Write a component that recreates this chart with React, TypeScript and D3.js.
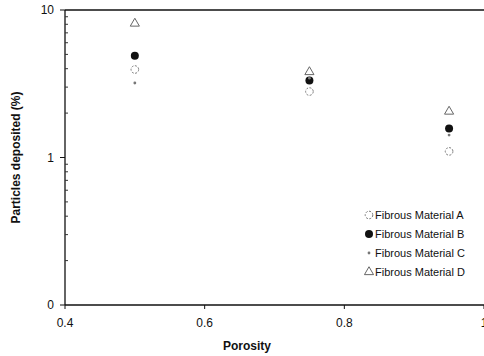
import { scaleLinear, scaleLog, symbol, symbolTriangle } from "d3";

const porosity = [0.5, 0.75, 0.95];
const materialA = [3.95, 2.8, 1.1];
const materialB = [4.9, 3.33, 1.57];
const materialC = [3.2, 3.45, 1.42];
const materialD = [8.1, 3.8, 2.05];
const seriesNames = ["Fibrous Material A", "Fibrous Material B", "Fibrous Material C", "Fibrous Material D"];
const xTicks = [0.4, 0.6, 0.8, 1];
const yTicks = [0.1, 1, 10];
const yTickLabels = ["0", "1", "10"];

const W = 484;
const H = 356;
const left = 65;
const top = 10;
const right = 484;
const bottom = 305;
const font = "Liberation Sans, Arial, sans-serif";

function Marker({ kind, x, y }: { kind: number; x: number; y: number }) {
  if (kind === 0)
    return <circle cx={x} cy={y} r={3.8} fill="white" stroke="#777" strokeWidth={1} strokeDasharray="2,1.5" />;
  if (kind === 1) return <circle cx={x} cy={y} r={4} fill="#111" />;
  if (kind === 2) return <circle cx={x} cy={y} r={1.4} fill="#777" />;
  const tri = symbol().type(symbolTriangle).size(36)();
  return <path d={tri || ""} transform={`translate(${x},${y})`} fill="white" stroke="#666" strokeWidth={1} />;
}

export default function App() {
  const x = scaleLinear().domain([0.4, 1]).range([left, right]);
  const y = scaleLog().domain([0.1, 10]).range([bottom, top]);
  const series = [materialA, materialB, materialC, materialD];
  const minors: number[] = [];
  [0.1, 1].forEach((d) => {
    for (let k = 2; k <= 9; k++) minors.push(d * k);
  });

  return (
    <svg width={W} height={H} style={{ position: "absolute", left: 0, top: 0, background: "white" }}>
      <rect width={W} height={H} fill="white" />
      {/* frame */}
      <line x1={left} x2={right} y1={top} y2={top} stroke="#111" strokeWidth={1.3} />
      <line x1={left} x2={left} y1={top} y2={bottom} stroke="#111" strokeWidth={1.3} />
      <line x1={left} x2={right} y1={bottom} y2={bottom} stroke="#111" strokeWidth={1.3} />

      {yTicks.map((t, i) => (
        <g key={t}>
          <line x1={left - 5} x2={left} y1={y(t)} y2={y(t)} stroke="#111" />
          <text x={left - 11} y={y(t)} dy="0.35em" textAnchor="end" fontSize={12} fontFamily={font} fill="#111">
            {yTickLabels[i]}
          </text>
        </g>
      ))}
      {minors.map((m) => (
        <line key={m} x1={left} x2={left + 3} y1={y(m)} y2={y(m)} stroke="#333" />
      ))}

      {xTicks.map((t) => (
        <g key={t}>
          <line x1={x(t)} x2={x(t)} y1={bottom} y2={bottom + 4} stroke="#111" />
          <text x={x(t)} y={bottom + 22} textAnchor="middle" fontSize={12} fontFamily={font} fill="#111">
            {String(t)}
          </text>
        </g>
      ))}

      <text x={247} y={350} textAnchor="middle" fontSize={12} fontWeight="bold" fontFamily={font} fill="#111">
        Porosity
      </text>
      <text
        transform={`translate(20,${(top + bottom) / 2}) rotate(-90)`}
        textAnchor="middle"
        fontSize={12}
        fontWeight="bold"
        fontFamily={font}
        fill="#111"
      >
        Particles deposited (%)
      </text>

      {series.map((vals, si) =>
        vals.map((v, i) => <Marker key={`${si}-${i}`} kind={si} x={x(porosity[i])} y={y(v)} />)
      )}

      {seriesNames.map((name, i) => (
        <g key={name} transform={`translate(369,${215 + i * 19})`}>
          <Marker kind={i} x={0} y={0} />
          <text x={6} y={0} dy="0.35em" fontSize={11} fontFamily={font} fill="#111">
            {name}
          </text>
        </g>
      ))}
    </svg>
  );
}
